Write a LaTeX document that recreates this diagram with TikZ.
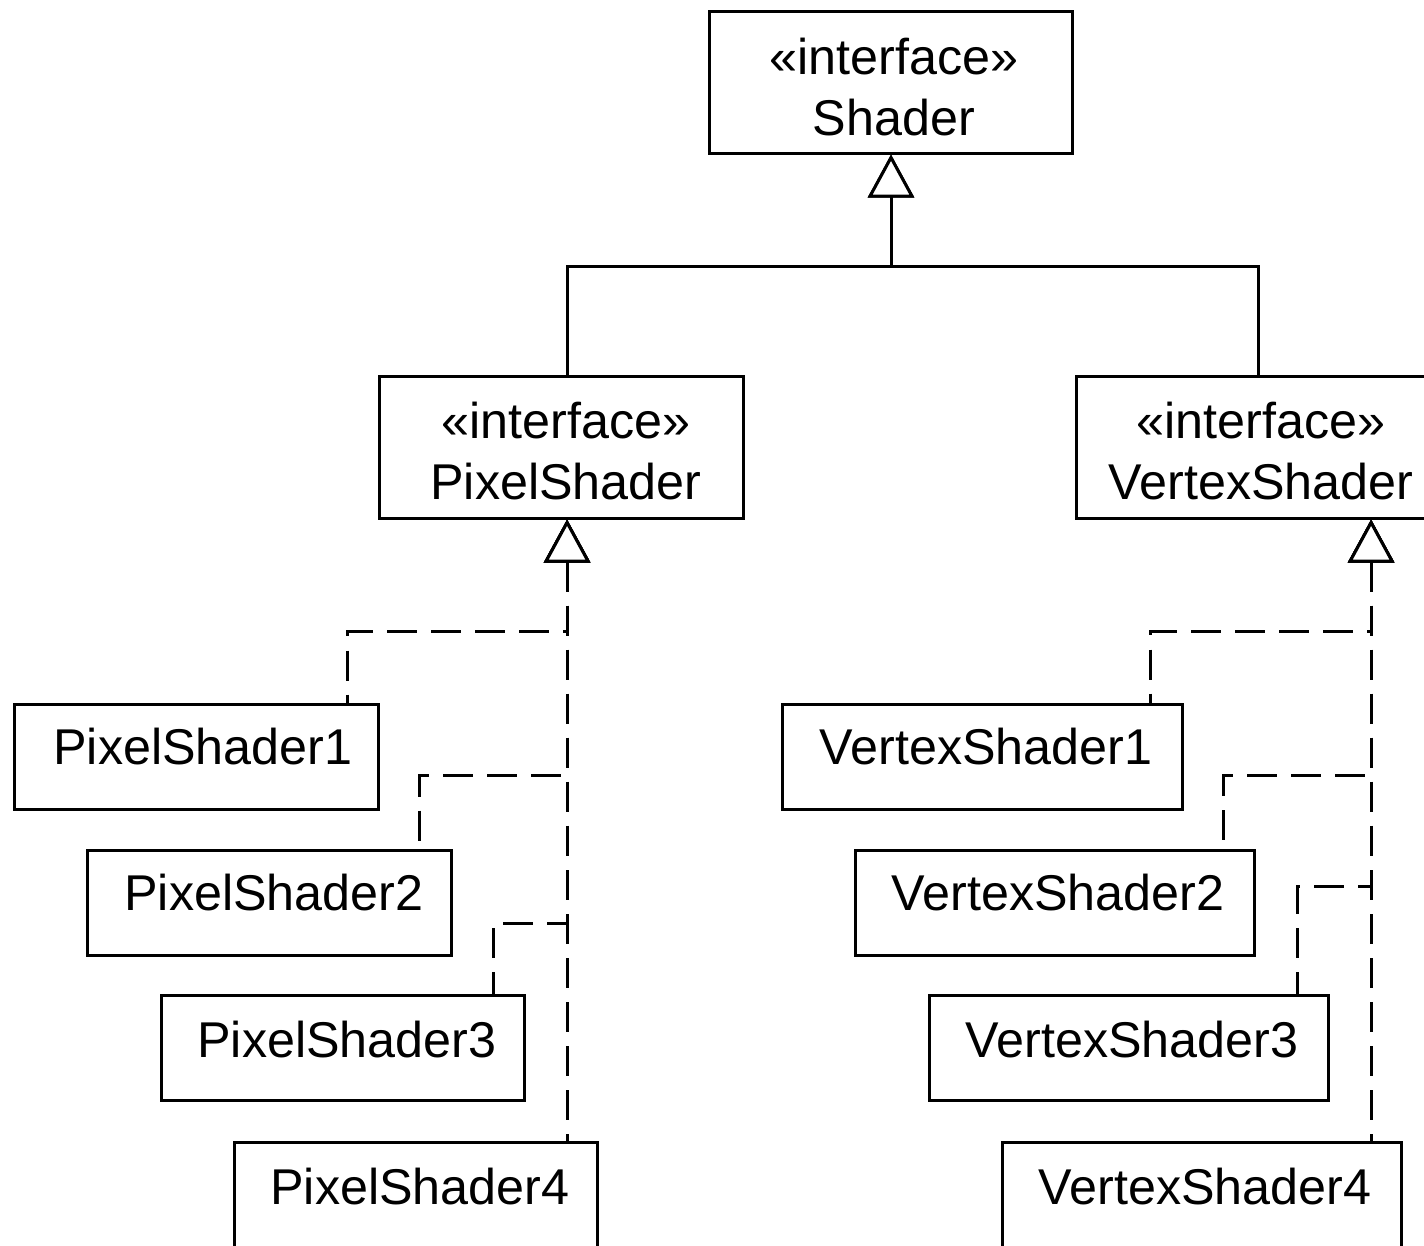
\documentclass[tikz,border=0pt]{standalone}
\usepackage{fontspec}
\setmainfont{Liberation Sans}
\usetikzlibrary{arrows.meta,calc}
\tikzset{
  box/.style={draw=black, line width=0.85pt, fill=white, rectangle, inner sep=0pt,
              minimum height=1.04cm, minimum width=3.63cm},
  ibox/.style={box, minimum height=1.41cm},
  wbox/.style={box, minimum width=3.99cm},
  txt/.style={inner sep=0pt, align=center, font=\fontsize{14.3}{17.4}\selectfont},
  gen/.style={line width=0.85pt, -{Triangle[fill=white, length=0.43cm, width=0.46cm]}},
  realize/.style={line width=0.85pt, dash pattern=on 0.30cm off 0.14cm,
                  {Triangle[fill=white, length=0.43cm, width=0.46cm]}-}
}
\begin{document}
\begin{tikzpicture}[x=0.01cm, y=-0.01cm]
\useasboundingbox (0,0) rectangle (1424,1245);
\clip (0,0) rectangle (1424,1245);

% interfaces
\node[ibox] (shader) at (891,82.5) {};
\node[txt] (shadert) at (894,87) {«interface»\\Shader};
\node[ibox] (ps) at (561.5,447.5) {};
\node[txt] (pst) at (566,451) {«interface»\\PixelShader};
\node[ibox] (vs) at (1258,447.5) {};
\node[txt] (vst) at (1261,451) {«interface»\\VertexShader};

% pixel shader implementations
\node[box] (ps1) at (196.5,757) {};
\node[txt] (ps1t) at (203,747) {PixelShader1};
\node[box] (ps2) at (269.5,903) {};
\node[txt] (ps2t) at (274,893) {PixelShader2};
\node[box] (ps3) at (343,1048) {};
\node[txt] (ps3t) at (347,1040) {PixelShader3};
\node[box] (ps4) at (416,1195) {};
\node[txt] (ps4t) at (420,1187) {PixelShader4};

% vertex shader implementations
\node[wbox] (vs1) at (982.5,757) {};
\node[txt] (vs1t) at (986,747) {VertexShader1};
\node[wbox] (vs2) at (1055,903) {};
\node[txt] (vs2t) at (1058,893) {VertexShader2};
\node[wbox] (vs3) at (1129,1048) {};
\node[txt] (vs3t) at (1132,1040) {VertexShader3};
\node[wbox] (vs4) at (1202,1195) {};
\node[txt] (vs4t) at (1205,1187) {VertexShader4};

% attachment points
\coordinate (pa1) at ([xshift=-0.32cm]ps1.north east);
\coordinate (pa2) at ([xshift=-0.33cm]ps2.north east);
\coordinate (pa3) at ([xshift=-0.33cm]ps3.north east);
\coordinate (pa4) at ([xshift=-0.32cm]ps4.north east);
\coordinate (ptip) at (ps.south -| pa4);
\coordinate (va1) at ([xshift=-0.33cm]vs1.north east);
\coordinate (va2) at ([xshift=-0.33cm]vs2.north east);
\coordinate (va3) at ([xshift=-0.33cm]vs3.north east);
\coordinate (va4) at ([xshift=-0.32cm]vs4.north east);
\coordinate (vtip) at (vs.south -| va4);
\coordinate (stip) at (shader.south);

% generalisation
\draw[gen] (ptip |- ps.north) |- ($(stip)+(0,112)$) -- (stip);
\draw[gen] (vs.north) |- ($(stip)+(0,112)$) -- (stip);

% realisations, drawn from the interface so the trunk dashes line up
\draw[realize] (ptip) -- ($(ptip)+(0,112)$) -| (pa1);
\draw[realize] (ptip) -- ($(ptip)+(0,256)$) -| (pa2);
\draw[realize] (ptip) -- ($(ptip)+(0,404)$) -| (pa3);
\draw[realize] (ptip) -- (pa4);
\draw[realize] (vtip) -- ($(vtip)+(0,112)$) -| (va1);
\draw[realize] (vtip) -- ($(vtip)+(0,256)$) -| (va2);
\draw[realize] (vtip) -- ($(vtip)+(0,367)$) -| (va3);
\draw[realize] (vtip) -- (va4);
\end{tikzpicture}
\end{document}
